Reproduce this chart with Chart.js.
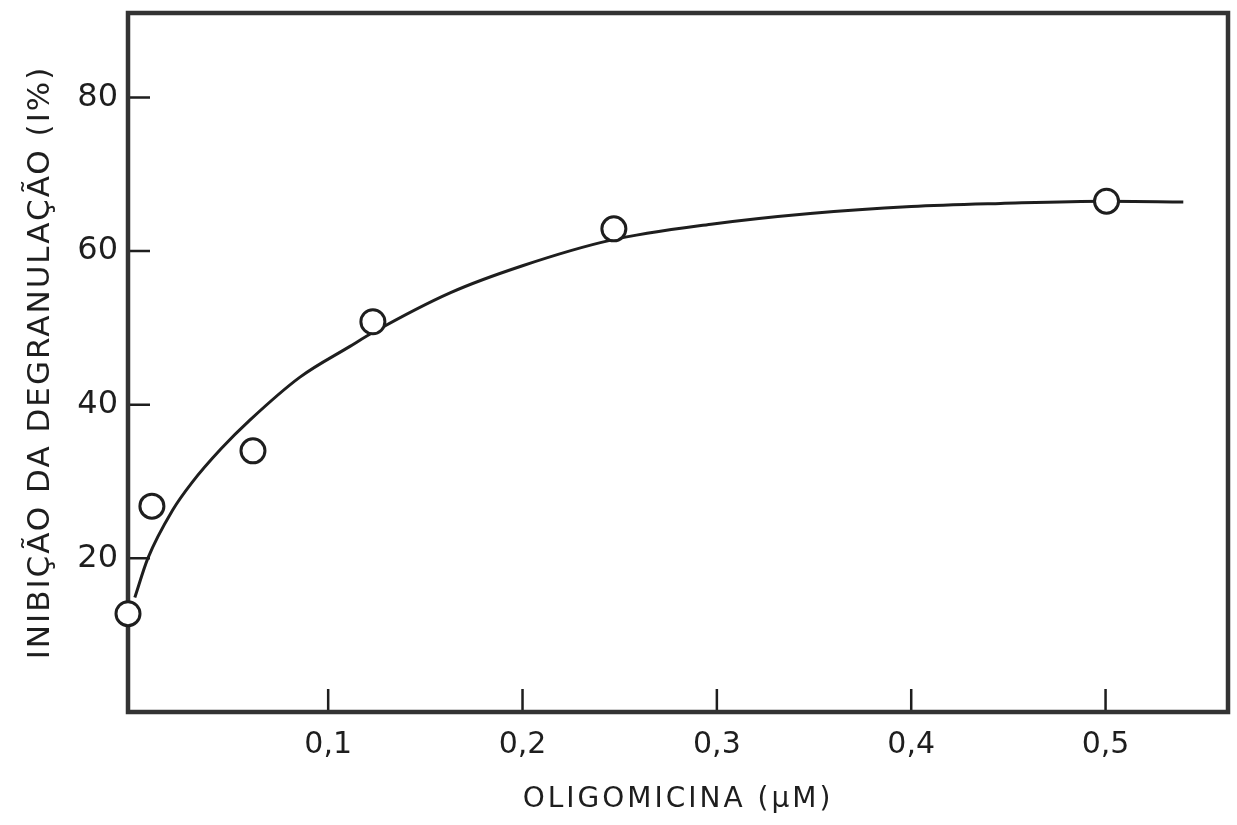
<!DOCTYPE html>
<html>
<head>
<meta charset="utf-8">
<script src="https://cdn.jsdelivr.net/npm/chart.js@4.4.1/dist/chart.umd.min.js"></script>
<style>
  html, body { margin: 0; padding: 0; background: #ffffff; }
  #wrap { width: 1237px; height: 825px; position: relative; }
</style>
</head>
<body>
<div id="wrap"><canvas id="c" width="1237" height="825"></canvas></div>
<script>
// Measured points (oligomicina µM, inhibition %)
const pointX = [-0.003, 0.0093, 0.0613, 0.123, 0.247, 0.5005];
const pointY = [12.8, 26.8, 34.0, 50.8, 62.9, 66.5];

// Hand-drawn fitted curve
const curveX = [0.0005, 0.0072, 0.020, 0.030, 0.045, 0.0597, 0.0855, 0.1112, 0.123, 0.163, 0.200, 0.245, 0.297, 0.348, 0.400, 0.446, 0.500, 0.540];
const curveY = [14.9, 20.0, 26.3, 29.9, 34.3, 38.0, 43.6, 47.6, 49.4, 54.6, 58.1, 61.4, 63.5, 64.9, 65.8, 66.2, 66.5, 66.4];

// Tick values and labels
const xTickValues = [0.1, 0.2, 0.3, 0.4, 0.5];
const xTickLabels = ['0,1', '0,2', '0,3', '0,4', '0,5'];
const yTickValues = [20, 40, 60, 80];
const yTickLabels = ['20', '40', '60', '80'];

const xTitle = 'OLIGOMICINA (µM)';
const yTitle = 'INIBIÇÃO DA DEGRANULAÇÃO (I%)';

const INK = '#1e1e1e';
const FONT = 'DejaVu Sans';

const curveData = curveX.map((x, i) => ({ x: x, y: curveY[i] }));
const pointData = pointX.map((x, i) => ({ x: x, y: pointY[i] }));

const framePlugin = {
  id: 'frame',
  beforeDatasetsDraw(chart) {
    const { ctx, chartArea: a, scales } = chart;
    ctx.save();
    ctx.strokeStyle = INK;
    ctx.lineWidth = 2.5;
    ctx.beginPath();
    xTickValues.forEach(v => {
      const px = scales.x.getPixelForValue(v);
      ctx.moveTo(px, a.bottom);
      ctx.lineTo(px, a.bottom - 23);
    });
    yTickValues.forEach(v => {
      const py = scales.y.getPixelForValue(v);
      ctx.moveTo(a.left, py);
      ctx.lineTo(a.left + 22, py);
    });
    ctx.stroke();
    ctx.strokeStyle = '#333333';
    ctx.lineWidth = 4.5;
    ctx.strokeRect(a.left, a.top, a.right - a.left, a.bottom - a.top);
    ctx.restore();
  }
};

// Wider lettering for axis titles
const spacingPlugin = {
  id: 'spacing',
  beforeDraw(chart) {
    const sx = chart.scales.x, sy = chart.scales.y;
    if (!sx._wrapped) {
      const ox = sx.drawTitle, oy = sy.drawTitle;
      sx.drawTitle = function () { const c = this.ctx; c.save(); c.letterSpacing = '3px'; ox.apply(this, arguments); c.restore(); };
      sy.drawTitle = function () { const c = this.ctx; c.save(); c.letterSpacing = '2px'; oy.apply(this, arguments); c.restore(); };
      sx._wrapped = true;
    }
  }
};

new Chart(document.getElementById('c'), {
  type: 'scatter',
  data: {
    datasets: [
      {
        type: 'line',
        data: curveData,
        borderColor: INK,
        borderWidth: 3,
        pointRadius: 0,
        fill: false,
        cubicInterpolationMode: 'monotone',
        clip: false,
        order: 2
      },
      {
        type: 'scatter',
        data: pointData,
        pointRadius: 12,
        pointHoverRadius: 12,
        pointBackgroundColor: '#ffffff',
        pointBorderColor: INK,
        pointBorderWidth: 3,
        clip: false,
        order: 1
      }
    ]
  },
  options: {
    responsive: false,
    animation: false,
    devicePixelRatio: 1,
    layout: { autoPadding: false, padding: { top: 13, right: 9, left: 0, bottom: 0 } },
    plugins: { legend: { display: false }, tooltip: { enabled: false } },
    scales: {
      x: {
        type: 'linear',
        min: -0.003,
        max: 0.563,
        grid: { display: false, drawTicks: false },
        border: { display: false },
        afterBuildTicks(scale) { scale.ticks = xTickValues.map(v => ({ value: v })); },
        afterFit(scale) { scale.height = 113; scale.paddingLeft = 0; scale.paddingRight = 0; },
        ticks: {
          padding: 15,
          color: INK,
          font: { family: FONT, size: 30 },
          maxRotation: 0,
          callback(value) { const i = xTickValues.indexOf(value); return i >= 0 ? xTickLabels[i] : ''; }
        },
        title: {
          display: true,
          text: xTitle,
          color: INK,
          font: { family: FONT, size: 28 },
          padding: { top: 0, bottom: 8 }
        }
      },
      y: {
        type: 'linear',
        min: 0,
        max: 91,
        grid: { display: false, drawTicks: false },
        border: { display: false },
        afterBuildTicks(scale) { scale.ticks = yTickValues.map(v => ({ value: v })); },
        afterFit(scale) { scale.width = 128; scale.paddingTop = 0; scale.paddingBottom = 0; },
        ticks: {
          padding: 10,
          color: INK,
          font: { family: FONT, size: 32 },
          callback(value) { const i = yTickValues.indexOf(value); return i >= 0 ? yTickLabels[i] : ''; }
        },
        title: {
          display: true,
          text: yTitle,
          color: INK,
          font: { family: FONT, size: 31 },
          padding: { top: 22, bottom: 0 }
        }
      }
    }
  },
  plugins: [framePlugin, spacingPlugin]
});
</script>
</body>
</html>
